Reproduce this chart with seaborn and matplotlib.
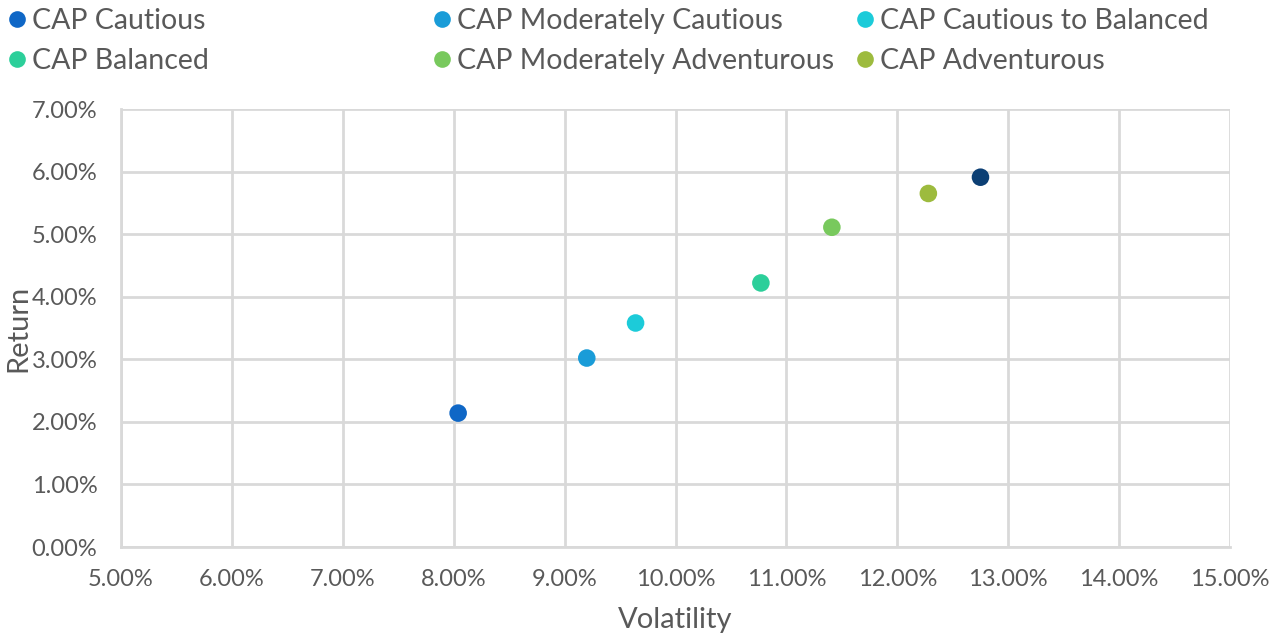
import pandas as pd
import matplotlib.pyplot as plt
import seaborn as sns
from matplotlib.ticker import PercentFormatter

names = ['CAP Cautious', 'CAP Moderately Cautious', 'CAP Cautious to Balanced',
         'CAP Balanced', 'CAP Moderately Adventurous', 'CAP Adventurous', 'Other']
volatility = [8.04, 9.20, 9.64, 10.77, 11.41, 12.28, 12.75]
returns = [2.14, 3.02, 3.58, 4.22, 5.11, 5.65, 5.91]
colors = ['#0f67c6', '#1a9cd8', '#1ccbd9', '#2ccf9a', '#78c95d', '#9dbb3e', '#0c3f74']

df = pd.DataFrame({'name': names, 'vol': volatility, 'ret': returns})

sns.set_style('white')
plt.rcParams['font.family'] = ['Lato', 'DejaVu Sans']

W, H = 1281, 639
fig = plt.figure(figsize=(W / 100, H / 100), dpi=100)
ax = fig.add_axes([121 / W, (H - 547) / H, 1109 / W, 438 / H])

sns.scatterplot(data=df, x='vol', y='ret', hue='name', palette=colors,
                s=160, edgecolor='none', legend=False, ax=ax)

ax.set_xlim(5, 15)
ax.set_ylim(0, 7)
ax.set_xticks(range(5, 16))
ax.set_yticks(range(0, 8))
ax.xaxis.set_major_formatter(PercentFormatter(decimals=2))
ax.yaxis.set_major_formatter(PercentFormatter(decimals=2))
ax.grid(True, color='#d9d9d9', linewidth=2)
ax.set_axisbelow(True)
for side in ['top', 'right']:
    ax.spines[side].set_visible(False)
for side in ['left', 'bottom']:
    ax.spines[side].set_color('#d9d9d9')
    ax.spines[side].set_linewidth(2)

ax.tick_params(axis='both', colors='#595959', labelsize=17, length=0)
ax.tick_params(axis='x', pad=16)
ax.tick_params(axis='y', pad=17)
ax.set_xlabel('Volatility', fontsize=21, color='#595959', labelpad=12)
ax.set_ylabel('Return', fontsize=21, color='#595959')
ax.yaxis.set_label_coords(-0.081, 0.5)

# legend: three fixed-width columns (navy series not listed in the original legend)
col_x = [6, 431, 854]
for c in range(3):
    idx = [c, c + 3]
    handles = [plt.Line2D([], [], marker='o', linestyle='', markersize=12,
                          markerfacecolor=colors[i], markeredgecolor='none') for i in idx]
    fig.legend(handles, [names[i] for i in idx], loc='upper left',
               bbox_to_anchor=(col_x[c] / W, 1 - 8 / H), frameon=False, fontsize=20.5,
               labelcolor='#595959', handletextpad=0.1, handlelength=0.8,
               labelspacing=0.5, borderpad=0, borderaxespad=0)

fig.savefig('out.png', dpi=100)
